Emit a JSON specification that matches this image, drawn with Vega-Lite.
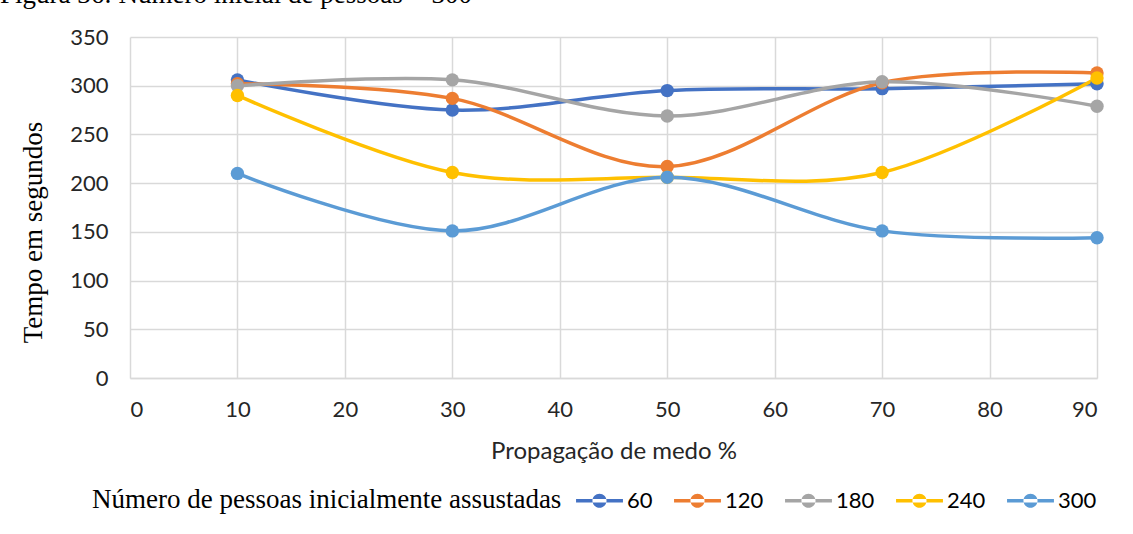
{
  "$schema": "https://vega.github.io/schema/vega-lite/v6.json",
  "autosize": {"type": "none"},
  "width": 967,
  "height": 341,
  "padding": {"left": 130, "top": 37, "right": 36, "bottom": 156},
  "background": "white",
  "title": {
    "text": "Figura 36: Número inicial de pessoas = 300",
    "anchor": "start",
    "frame": "group",
    "dx": -130,
    "dy": 16,
    "offset": 12,
    "baseline": "alphabetic",
    "font": "Liberation Serif",
    "fontSize": 27,
    "fontWeight": "normal",
    "color": "#000000",
    "limit": 1000
  },
  "data": {
    "values": [
      {"propagacao": 10, "tempo": 306, "grupo": "60"},
      {"propagacao": 30, "tempo": 275, "grupo": "60"},
      {"propagacao": 50, "tempo": 295, "grupo": "60"},
      {"propagacao": 70, "tempo": 297, "grupo": "60"},
      {"propagacao": 90, "tempo": 302, "grupo": "60"},
      {"propagacao": 10, "tempo": 302, "grupo": "120"},
      {"propagacao": 30, "tempo": 287, "grupo": "120"},
      {"propagacao": 50, "tempo": 217, "grupo": "120"},
      {"propagacao": 70, "tempo": 303, "grupo": "120"},
      {"propagacao": 90, "tempo": 313, "grupo": "120"},
      {"propagacao": 10, "tempo": 300, "grupo": "180"},
      {"propagacao": 30, "tempo": 306, "grupo": "180"},
      {"propagacao": 50, "tempo": 269, "grupo": "180"},
      {"propagacao": 70, "tempo": 304, "grupo": "180"},
      {"propagacao": 90, "tempo": 279, "grupo": "180"},
      {"propagacao": 10, "tempo": 290, "grupo": "240"},
      {"propagacao": 30, "tempo": 211, "grupo": "240"},
      {"propagacao": 50, "tempo": 206, "grupo": "240"},
      {"propagacao": 70, "tempo": 211, "grupo": "240"},
      {"propagacao": 90, "tempo": 308, "grupo": "240"},
      {"propagacao": 10, "tempo": 210, "grupo": "300"},
      {"propagacao": 30, "tempo": 151, "grupo": "300"},
      {"propagacao": 50, "tempo": 206, "grupo": "300"},
      {"propagacao": 70, "tempo": 151, "grupo": "300"},
      {"propagacao": 90, "tempo": 144, "grupo": "300"}
    ]
  },
  "mark": {
    "type": "line",
    "interpolate": "cardinal",
    "strokeWidth": 3.5,
    "point": {"filled": true, "size": 180, "opacity": 1}
  },
  "encoding": {
    "x": {
      "field": "propagacao",
      "type": "quantitative",
      "scale": {"domain": [0, 90], "nice": false},
      "axis": {
        "values": [0, 10, 20, 30, 40, 50, 60, 70, 80, 90],
        "title": "Propagação de medo %",
        "titleFontSize": 24,
        "titlePadding": 19,
        "labelPadding": 21,
        "ticks": false,
        "domain": true,
        "domainColor": "#D9D9D9",
        "domainWidth": 1.5,
        "gridColor": "#D9D9D9",
        "gridWidth": 1.5
      }
    },
    "y": {
      "field": "tempo",
      "type": "quantitative",
      "scale": {"domain": [0, 350], "nice": false},
      "axis": {
        "values": [0, 50, 100, 150, 200, 250, 300, 350],
        "title": "Tempo em segundos",
        "titleFont": "Liberation Serif",
        "titleFontSize": 27,
        "titleColor": "#000000",
        "titleX": -97,
        "titleY": 195,
        "titleAngle": -90,
        "titleAlign": "center",
        "titleBaseline": "middle",
        "labelPadding": 22,
        "ticks": false,
        "domain": false,
        "gridColor": "#D9D9D9",
        "gridWidth": 1.5
      }
    },
    "color": {
      "field": "grupo",
      "type": "nominal",
      "scale": {
        "domain": ["60", "120", "180", "240", "300"],
        "range": ["#4472C4", "#ED7D31", "#A5A5A5", "#FFC000", "#5B9BD5"]
      },
      "legend": {
        "title": "Número de pessoas inicialmente assustadas",
        "orient": "none",
        "legendX": -38,
        "legendY": 440,
        "direction": "horizontal",
        "titleOrient": "left",
        "titleAnchor": "middle",
        "titleFont": "Liberation Serif",
        "titleFontSize": 27,
        "titleFontWeight": "normal",
        "titleColor": "#000000",
        "titleLimit": 800,
        "titlePadding": 14,
        "titleBaseline": "line-top",
        "titleLineHeight": 13,
        "symbolType": "M-1,-0.07H1V0.07H-1Z M-0.3,0A0.3,0.3 0 1,0 0.3,0A0.3,0.3 0 1,0 -0.3,0Z",
        "symbolSize": 2200,
        "symbolStrokeWidth": 0,
        "labelFont": "Lato",
        "labelFontSize": 22,
        "labelColor": "#000000",
        "labelOffset": 4,
        "columnPadding": 21
      }
    }
  },
  "config": {
    "view": {"stroke": null},
    "axis": {
      "labelFont": "Lato",
      "labelFontSize": 22,
      "labelColor": "#262626",
      "titleFont": "Lato",
      "titleFontSize": 24,
      "titleFontWeight": "normal",
      "titleColor": "#262626"
    }
  }
}
